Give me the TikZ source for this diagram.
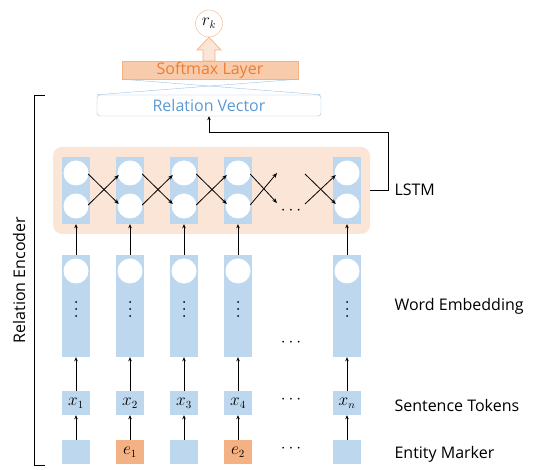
\documentclass[tikz,border=0pt]{standalone}
\usepackage{fontspec}
\setmainfont{Open Sans}
\usepackage{tikz}
\usetikzlibrary{positioning, arrows.meta, calc}
\definecolor{cellblue}{HTML}{BDD7EE}
\definecolor{markorange}{HTML}{F4B183}
\definecolor{lstmbg}{HTML}{FBE5D6}
\definecolor{lineblue}{HTML}{9DC3E6}
\definecolor{textblue}{HTML}{5B9BD5}
\definecolor{textorange}{HTML}{ED7D31}
\definecolor{softfill}{HTML}{F8CBAD}
\tikzset{
    col/.style = {fill=cellblue, minimum width=28pt, inner sep=0pt}, % one column of cells
    unit/.style = {circle, fill=white, minimum size=25pt, inner sep=0pt},
    tokbox/.style = {fill=cellblue, minimum width=28pt, minimum height=24pt, inner sep=0pt},
    lbl/.style = {anchor=west},
    feed/.style = {-{Stealth[length=4pt,width=3.5pt]}, line width=0.6pt},
    cross/.style = {-{Stealth[length=5pt,width=4pt]}, line width=0.8pt}
}

\begin{document}
\begin{tikzpicture}[x=1pt, y=-1pt, font=\fontsize{16}{18}\selectfont]
    \useasboundingbox (0,0) rectangle (541,470);
    % LSTM background
    \node [fill=lstmbg, rounded corners=9pt, minimum width=317pt, minimum height=87pt] (lstmbg) at (211.5,190.5) {};
    % columns
    \foreach \i/\x/\tok/\ent in {1/76/x_1/, 2/130/x_2/e_1, 3/184/x_3/, 4/238/x_4/e_2, n/347/x_n/} {
        \node [col, minimum height=67pt] (lstm\i) at (\x,190.5) {};
        \node [unit] (top\i) at (\x,173) {};
        \node [unit] (bot\i) at (\x,206) {};
        \node [col, minimum height=102pt] (emb\i) at (\x,306) {};
        \node [unit] (c\i) at (\x,271) {};
        \foreach \d in {302,309,316} \fill (\x,\d) circle (1pt);
        \node [tokbox] (tok\i) at (\x,403) {$\tok$};
        \ifx\ent\empty
            \node [tokbox] (mark\i) at (\x,452) {};
        \else
            \node [tokbox, fill=markorange] (mark\i) at (\x,452) {$\ent$};
        \fi
        \draw [feed] (mark\i) -- (tok\i);
        \draw [feed] (tok\i) -- (emb\i);
        \draw [feed] (emb\i) -- (lstm\i);
    }
    % recurrent crossings
    \foreach \a/\b in {1/2, 2/3, 3/4} {
        \draw [cross] ($(lstm\a.east |- top\a)+(-2,1)$) -- ($(lstm\b.west |- bot\b)+(3,-2)$);
        \draw [cross] ($(lstm\a.east |- bot\a)+(-2,-1)$) -- ($(lstm\b.west |- top\b)+(3,2)$);
    }
    % open ends round the gap
    \coordinate (g1) at (277,173);
    \coordinate (g2) at (277,203);
    \coordinate (g3) at (305,174);
    \coordinate (g4) at (305,204);
    \draw [cross] ($(lstm4.east |- top4)+(-2,1)$) -- (g2);
    \draw [cross] ($(lstm4.east |- bot4)+(-2,-1)$) -- (g1);
    \draw [cross] (g3) -- ($(lstmn.west |- botn)+(3,-2)$);
    \draw [cross] (g4) -- ($(lstmn.west |- topn)+(3,2)$);
    \node (d1) at (291,211) {$\cdots$};
    \node (d2) at (291,343) {$\cdots$};
    \node (d3) at (291,400) {$\cdots$};
    \node (d4) at (291,449) {$\cdots$};
    % upper part
    \node [draw=lineblue, rounded corners=3pt, fill=white, text=textblue, minimum width=224pt, minimum height=21pt, inner sep=0pt] (rv) at (209,105.5) {Relation Vector};
    \node [draw=markorange, fill=softfill, text=textorange, minimum width=176pt, minimum height=18pt, inner sep=0pt] (soft) at (210,70) {Softmax Layer};
    \draw [lineblue, line width=0.4pt] (soft.south west) -- (rv.north east);
    \draw [lineblue, line width=0.4pt] (soft.south east) -- (rv.north west);
    \node [circle, draw=markorange, fill=white, minimum size=27pt, inner sep=0pt] (rk) at (209,23.5) {$r_k$};
    \draw [markorange, fill=softfill!50, line width=0.7pt] (203,61) -- (203,50) -- (197,50) -- (rk.south) -- (221,50) -- (215,50) -- (215,61) -- cycle;
    % LSTM output
    \coordinate (turn) at (388,132);
    \draw [feed] (lstmbg.east) -| (turn) -| (rv.south);
    % encoder bracket
    \draw [line width=0.6pt] (45,95) -- (34,95) -- (34,465) -- (45,465);
    \node [rotate=90] (enc) at (19,280) {Relation Encoder};
    % right labels
    \node [lbl] (lstmlab) at (391,190) {LSTM};
    \node [lbl] (emblab) at (391,306) {Word Embedding};
    \node [lbl] (toklab) at (391,405) {Sentence Tokens};
    \node [lbl] (marklab) at (391,454) {Entity Marker};
\end{tikzpicture}
\end{document}
